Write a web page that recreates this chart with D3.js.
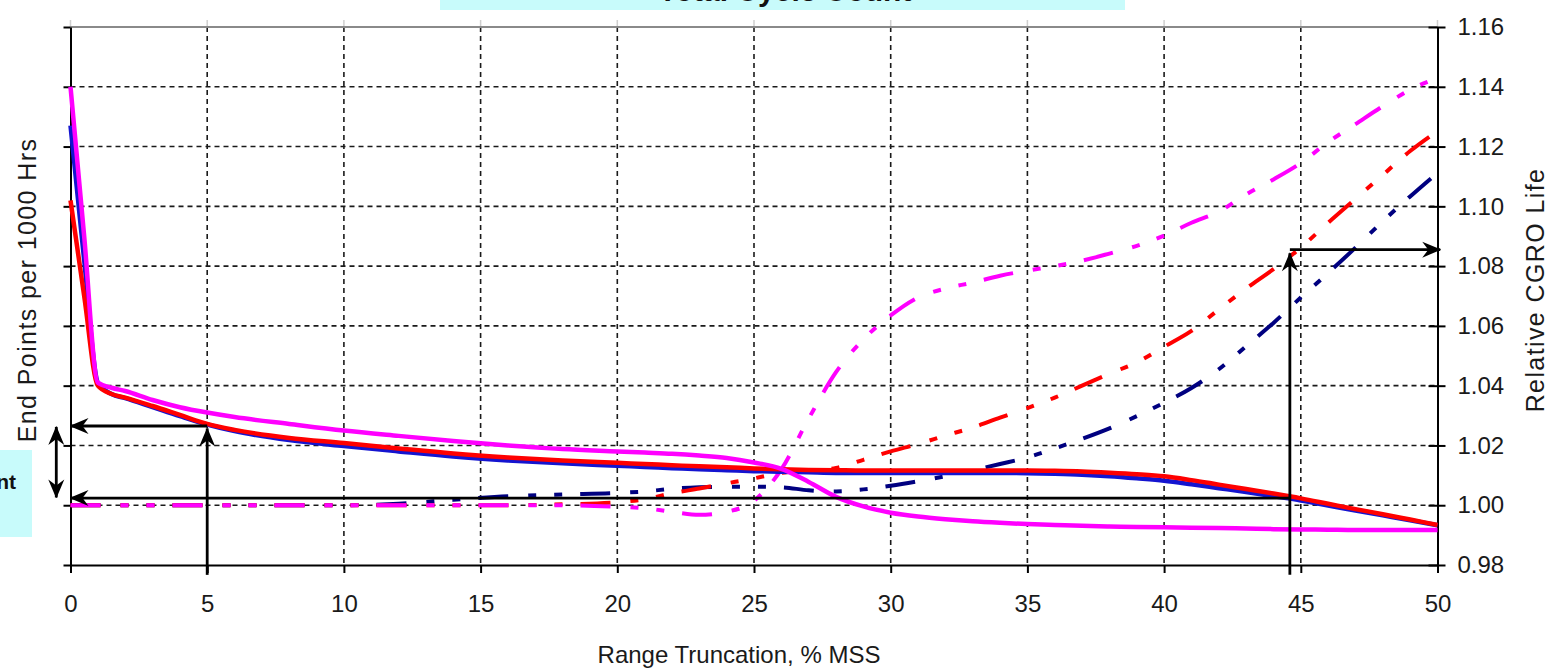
<!DOCTYPE html>
<html>
<head>
<meta charset="utf-8">
<script src="https://cdn.jsdelivr.net/npm/d3@7"></script>
<style>
body { margin: 0; background: #fff; }
svg { display: block; font-family: "Liberation Sans", Arial, sans-serif; }
</style>
</head>
<body>
<svg id="chart" width="1552" height="670"></svg>
<script>
// x values: range truncation, % MSS
const truncation = [0, 0.5, 1, 1.5, 2, 3, 4, 5, 6, 8, 10, 12, 14, 16, 18, 20,
  21, 22, 23, 24, 25, 26, 27, 28, 29, 30, 31, 32, 33, 34, 35, 36, 37, 38, 39, 40,
  41, 42, 43, 44, 45, 46, 47, 48, 49, 50];

// solid lines (end points per 1000 hrs, read against the shared gridlines)
const endPtsBlue = [1.127, 1.082, 1.041, 1.0372, 1.0358, 1.0328, 1.0298, 1.027, 1.0248, 1.0218, 1.0198, 1.018, 1.0163, 1.015, 1.014, 1.0132,
  1.0128, 1.0124, 1.012, 1.0117, 1.0114, 1.0112, 1.011, 1.0108, 1.0108, 1.0108, 1.0108, 1.0108, 1.0108, 1.0108, 1.0107, 1.0105, 1.0102, 1.0097, 1.009, 1.0082,
  1.007, 1.0057, 1.0044, 1.003, 1.0016, 0.9999, 0.9982, 0.9966, 0.995, 0.9933];
const endPtsRed = [1.102, 1.07, 1.04, 1.0372, 1.036, 1.0332, 1.0302, 1.0272, 1.0252, 1.0225, 1.0208, 1.019, 1.0173, 1.016, 1.015, 1.0142,
  1.0138, 1.0134, 1.013, 1.0127, 1.0123, 1.012, 1.0118, 1.0117, 1.0116, 1.0116, 1.0116, 1.0116, 1.0116, 1.0116, 1.0116, 1.0115, 1.0113, 1.0109, 1.0104, 1.0097,
  1.0084, 1.0069, 1.0054, 1.0039, 1.0023, 1.0005, 0.9987, 0.997, 0.9952, 0.9934];
const endPtsMagenta = [1.14, 1.09, 1.041, 1.0393, 1.0382, 1.0352, 1.0328, 1.031, 1.0295, 1.0272, 1.025, 1.0232, 1.0215, 1.02, 1.0188, 1.018,
  1.0176, 1.0172, 1.0166, 1.0158, 1.0143, 1.0122, 1.0078, 1.0028, 0.9996, 0.9975, 0.9962, 0.9953, 0.9946, 0.9941, 0.9937, 0.9934, 0.9931, 0.9929, 0.9927, 0.9926,
  0.9925, 0.9924, 0.9922, 0.992, 0.9919, 0.9918, 0.9917, 0.9917, 0.9917, 0.9917];

// dash-dot lines (relative CGRO life, right axis)
const lifeBlue = [1, 1, 1, 1, 1, 1, 1, 1, 1, 1, 1, 1.0005, 1.0018, 1.003, 1.0036, 1.0041,
  1.0046, 1.0055, 1.006, 1.0062, 1.0062, 1.006, 1.005, 1.0046, 1.0053, 1.0065, 1.008, 1.0097, 1.0117, 1.0138, 1.016, 1.019, 1.0222, 1.0257, 1.0298, 1.0343,
  1.0392, 1.0455, 1.0532, 1.061, 1.0695, 1.0777, 1.0862, 1.095, 1.1033, 1.1112];
const lifeRed = [1, 1, 1, 1, 1, 1, 1, 1, 1, 1, 1, 1, 1, 1, 1.0003, 1.001,
  1.002, 1.004, 1.0056, 1.0073, 1.009, 1.0108, 1.0115, 1.0125, 1.0152, 1.018, 1.0205, 1.0233, 1.026, 1.0293, 1.0325, 1.036, 1.04, 1.044, 1.0478, 1.053,
  1.0583, 1.0655, 1.0725, 1.079, 1.0862, 1.0945, 1.1025, 1.1105, 1.1185, 1.1252];
const lifeMagenta = [1, 1, 1, 1, 1, 1, 1, 1, 1, 1, 1, 1, 1, 1, 1, 0.9995,
  0.999, 0.9978, 0.9968, 0.9978, 1.0015, 1.012, 1.029, 1.0445, 1.0555, 1.0635, 1.0695, 1.0725, 1.0745, 1.0768, 1.0785, 1.08, 1.0818, 1.0842, 1.0868, 1.0902,
  1.0945, 1.0982, 1.104, 1.109, 1.1145, 1.1215, 1.1275, 1.1335, 1.139, 1.143];

const xTicks = [0, 5, 10, 15, 20, 25, 30, 35, 40, 45, 50];
const yTicks = [0.98, 1.0, 1.02, 1.04, 1.06, 1.08, 1.1, 1.12, 1.14, 1.16];

// annotation arrows, in data units
const arrowLines = [
  { from: [5, 1.0265], to: [0, 1.0265] },
  { from: [5, 0.9767], to: [5, 1.0257] },
  { from: [44.6, 1.0024], to: [0, 1.0024] },
  { from: [44.6, 0.9767], to: [44.6, 1.0843] },
  { from: [44.6, 1.0855], to: [50.1, 1.0855] }
];
const spanArrow = { x: -0.52, y0: 1.0262, y1: 1.0026 };

const margin = { top: 27, right: 114.5, bottom: 105, left: 70.5 };
const W = 1552, H = 670;

const svg = d3.select("#chart");

const x = d3.scaleLinear().domain([0, 50]).range([margin.left, W - margin.right]);
const y = d3.scaleLinear().domain([0.98, 1.16]).range([H - margin.bottom, margin.top]);

const defs = svg.append("defs");
defs.append("marker")
  .attr("id", "arrow")
  .attr("viewBox", "-19 -9 20 18")
  .attr("refX", 0)
  .attr("refY", 0)
  .attr("markerWidth", 20)
  .attr("markerHeight", 18)
  .attr("markerUnits", "userSpaceOnUse")
  .attr("orient", "auto-start-reverse")
  .append("path")
  .attr("d", "M1,0L-18,-8L-12,0L-18,8Z")
  .attr("fill", "#000");

// title box (cut off at the top)
svg.append("rect")
  .attr("x", 440).attr("y", -40).attr("width", 685).attr("height", 50)
  .attr("fill", "#c8fbfb");
svg.append("text")
  .attr("x", 785).attr("y", 1)
  .attr("text-anchor", "middle")
  .attr("font-weight", "bold")
  .attr("font-size", 30)
  .attr("fill", "#111")
  .text("Total Cycle Count");

// left note box (cut off at the left)
svg.append("rect")
  .attr("x", -10).attr("y", 450).attr("width", 42).attr("height", 87)
  .attr("fill", "#c8fbfb");
svg.append("text")
  .attr("x", 16).attr("y", 489)
  .attr("text-anchor", "end")
  .attr("font-weight", "bold")
  .attr("font-size", 21)
  .attr("fill", "#111")
  .text("Point");

// gridlines
const grid = svg.append("g")
  .attr("stroke", "#1a1a1a")
  .attr("stroke-width", 1.6)
  .attr("stroke-dasharray", "5,4");

grid.selectAll(".hgrid")
  .data(yTicks.slice(1, -1))
  .join("line")
  .attr("x1", x(0)).attr("x2", x(50))
  .attr("y1", d => y(d)).attr("y2", d => y(d));

grid.selectAll(".vgrid")
  .data(xTicks.slice(1, -1))
  .join("line")
  .attr("x1", d => x(d)).attr("x2", d => x(d))
  .attr("y1", y(1.16)).attr("y2", y(0.98));

// faint ticks above the top border
svg.append("g")
  .selectAll("line")
  .data(xTicks)
  .join("line")
  .attr("x1", d => x(d)).attr("x2", d => x(d))
  .attr("y1", y(1.16) - 7).attr("y2", y(1.16))
  .attr("stroke", "#cfcfcf")
  .attr("stroke-width", 1.5);

// top border
svg.append("line")
  .attr("x1", x(0)).attr("x2", x(50))
  .attr("y1", y(1.16)).attr("y2", y(1.16))
  .attr("stroke", "#8a8a8a")
  .attr("stroke-width", 2.2);

// axes
const xAxis = svg.append("g")
  .attr("transform", "translate(0," + y(0.98) + ")")
  .call(d3.axisBottom(x).tickValues(xTicks).tickSize(8).tickSizeOuter(0).tickPadding(22));

const yAxisLeft = svg.append("g")
  .attr("transform", "translate(" + x(0) + ",0)")
  .call(d3.axisLeft(y).tickValues(yTicks).tickSize(7).tickSizeOuter(0).tickFormat(""));

const yAxisRight = svg.append("g")
  .attr("transform", "translate(" + x(50) + ",0)")
  .call(d3.axisRight(y).tickValues(yTicks).tickSize(8).tickSizeOuter(0).tickPadding(12).tickFormat(d3.format(".2f")));

yAxisRight.selectAll(".tick line").attr("x1", -9);

[xAxis, yAxisLeft, yAxisRight].forEach(g => {
  g.select(".domain").attr("stroke", "#000").attr("stroke-width", 2);
  g.selectAll(".tick line").attr("stroke", "#000").attr("stroke-width", 2);
  g.selectAll(".tick text")
    .attr("font-size", 24)
    .attr("font-family", "'Liberation Sans', Arial, sans-serif")
    .attr("fill", "#1a1a1a");
});

// axis titles
svg.append("text")
  .attr("x", 739).attr("y", 663)
  .attr("text-anchor", "middle")
  .attr("font-size", 24)
  .attr("fill", "#1a1a1a")
  .text("Range Truncation, % MSS");

svg.append("text")
  .attr("transform", "translate(36,290) rotate(-90)")
  .attr("text-anchor", "middle")
  .attr("font-size", 25)
  .attr("letter-spacing", 1.4)
  .attr("fill", "#1a1a1a")
  .text("End Points per 1000 Hrs");

svg.append("text")
  .attr("transform", "translate(1544,290) rotate(-90)")
  .attr("text-anchor", "middle")
  .attr("font-size", 25)
  .attr("letter-spacing", 1.4)
  .attr("fill", "#1a1a1a")
  .text("Relative CGRO Life");

// series
const line = d3.line()
  .x(d => x(d[0]))
  .y(d => y(d[1]))
  .curve(d3.curveMonotoneX);

const dashed = [
  { values: lifeBlue, color: "#000080" },
  { values: lifeRed, color: "#ff0000" },
  { values: lifeMagenta, color: "#ff00ff" }
];
const solid = [
  { values: endPtsBlue, color: "#1414d0" },
  { values: endPtsRed, color: "#ff0000" },
  { values: endPtsMagenta, color: "#ff00ff" }
];

svg.append("g")
  .selectAll("path")
  .data(dashed)
  .join("path")
  .attr("fill", "none")
  .attr("stroke", d => d.color)
  .attr("stroke-width", 4)
  .attr("stroke-dasharray", "30,20,8,18,8,18")
  .attr("d", d => line(d.values.map((v, i) => [truncation[i], v])));

svg.append("g")
  .selectAll("path")
  .data(solid)
  .join("path")
  .attr("fill", "none")
  .attr("stroke", d => d.color)
  .attr("stroke-width", 4.5)
  .attr("stroke-linejoin", "round")
  .attr("d", d => line(d.values.map((v, i) => [truncation[i], v])));

// arrows
svg.append("g")
  .selectAll("line")
  .data(arrowLines)
  .join("line")
  .attr("x1", d => x(d.from[0])).attr("y1", d => y(d.from[1]))
  .attr("x2", d => x(d.to[0])).attr("y2", d => y(d.to[1]))
  .attr("stroke", "#000")
  .attr("stroke-width", 2.8)
  .attr("marker-end", "url(#arrow)");

svg.append("line")
  .attr("x1", x(spanArrow.x)).attr("x2", x(spanArrow.x))
  .attr("y1", y(spanArrow.y0)).attr("y2", y(spanArrow.y1))
  .attr("stroke", "#000")
  .attr("stroke-width", 2.8)
  .attr("marker-start", "url(#arrow)")
  .attr("marker-end", "url(#arrow)");
</script>
</body>
</html>
